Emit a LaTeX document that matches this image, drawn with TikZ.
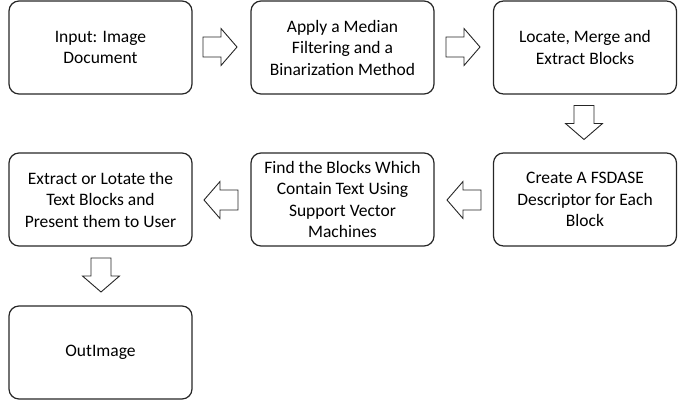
\documentclass[tikz,border=0pt]{standalone}
\usepackage{fontspec}
\setmainfont{Carlito}
\begin{document}
\begin{tikzpicture}[x=1pt,y=-1pt,
  stepbox/.style={draw=black!85, line width=1.2pt, rounded corners=10pt, minimum width=183pt, minimum height=93pt, align=center, inner sep=0pt, font=\fontsize{17.5}{21.5}\selectfont},
  blockarrow/.style={draw=black!85, line width=0.9pt, fill=white, line join=miter},
  bigarrow/.pic={\draw[blockarrow] (-17,-10) -- (1,-10) -- (1,-18.5) -- (17,0) -- (1,18.5) -- (1,10) -- (-17,10) -- cycle;}
]
\useasboundingbox (0,0) rectangle (685,400);
\node[stepbox] (b1) at (100.5,47.5) {Input: Image\\Document};
\node[stepbox] (b2) at (342.5,47.5) {Apply a Median\\Filtering and a\\Binarization Method};
\node[stepbox] (b3) at (585,47.5) {Locate, Merge and\\Extract Blocks};
\node[stepbox] (b4) at (585,199.5) {Create A FSDASE\\Descriptor for Each\\Block};
\node[stepbox] (b5) at (342.5,199.5) {Find the Blocks Which\\Contain Text Using\\Support Vector\\Machines};
\node[stepbox] (b6) at (100.5,199.5) {Extract or Lotate the\\Text Blocks and\\Present them to User};
\node[stepbox] (b7) at (100.5,352.5) {OutImage};
\coordinate (a1) at (220,47);
\coordinate (a2) at (463,47);
\coordinate (a3) at (584,122.5);
\coordinate (a4) at (464,200);
\coordinate (a5) at (221,200);
\coordinate (a6) at (101,275);
\pic at (a1) {bigarrow};
\pic at (a2) {bigarrow};
\pic[rotate=-90] at (a3) {bigarrow};
\pic[rotate=180] at (a4) {bigarrow};
\pic[rotate=180] at (a5) {bigarrow};
\pic[rotate=-90] at (a6) {bigarrow};
\end{tikzpicture}
\end{document}
